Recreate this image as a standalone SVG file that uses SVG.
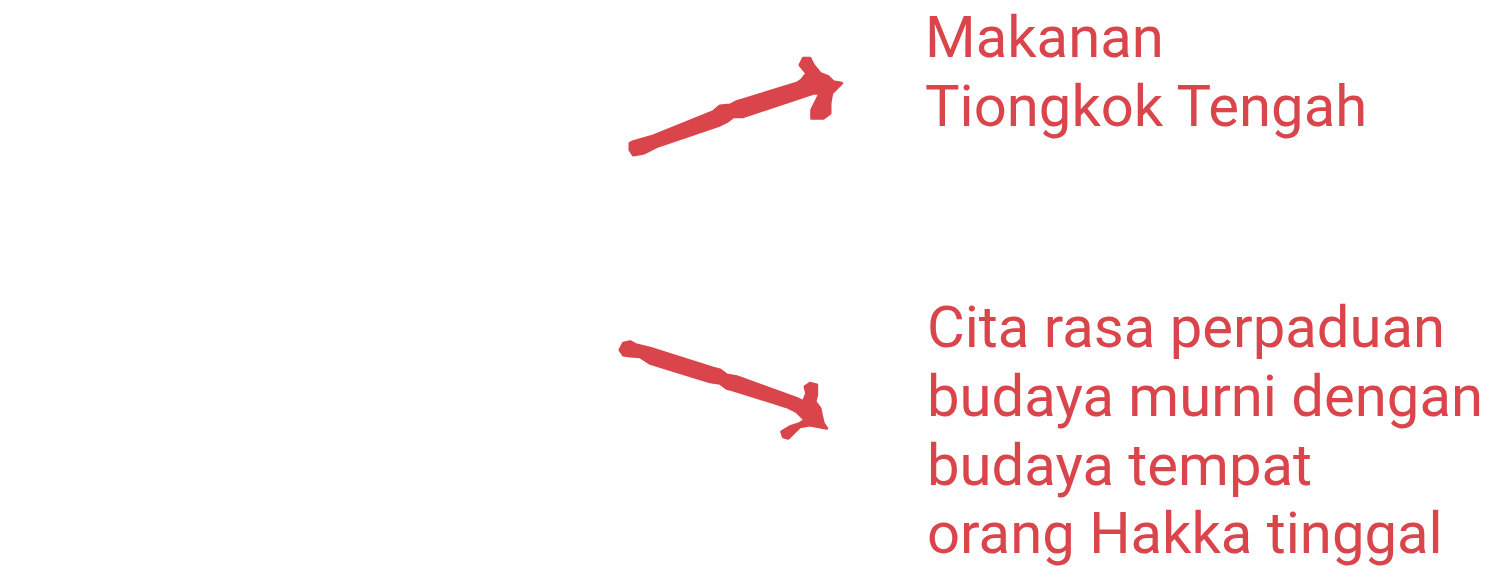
<svg xmlns="http://www.w3.org/2000/svg" width="1496" height="584" viewBox="0 0 1496 584">
<style>
.lbl{font-family:Roboto,"Noto Sans",sans-serif;font-size:58px;fill:#d9454b}
.arw{fill:#d9454b;stroke:#d9454b;stroke-width:3;stroke-linejoin:round}
</style>
<rect width="1496" height="584" fill="#ffffff"/>
<g id="connectors">
<path class="arw" d="M633.3,141.7 L653.3,136 L713.3,111.7 L720,106 L730,105 L736.7,101.7 L796.7,83.3 L801.7,80 L806.7,73.3 L800,65 L803.3,58.3 L810,58.3 L813.3,65 L820,73.3 L828.3,76.7 L833.3,81.7 L841.7,83.3 L836.7,88.3 L831.7,93.3 L830,103.3 L830,113.3 L823.3,118.3 L811.7,118.3 L811.7,110 L816.7,100 L820,93.3 L813.3,93.3 L743.3,116.7 L733.3,116.7 L726.7,121.7 L720,125 L656.7,146.7 L643.3,153.3 L633.3,155 L630,150 L630,143.3 Z"/>
<path class="arw" d="M623.3,343.3 L630,341.7 L636.7,345 L650,348.3 L713.3,368.3 L720,370 L726.7,375 L736.7,376.7 L796.7,398.3 L803.3,401.7 L806.7,393.3 L805,386.7 L810,383.3 L816.7,385 L816.7,395 L815,401.7 L820,408.3 L821.7,416.7 L823.3,423.3 L826.7,428.3 L810,425 L800,426.7 L793.3,433.3 L788.3,438.3 L783.3,436.7 L781.7,431.7 L790,426.7 L800,423.3 L805,420 L796.7,411.7 L786.7,406.7 L733.3,390 L726.7,388.3 L720,383.3 L710,381.7 L650,363.3 L640,356.7 L630,356 L623.3,355 L620,350 Z"/>
</g>
<g id="node-makanan">
<text class="lbl" x="925" y="57">Makanan</text>
<text class="lbl" x="925" y="126">Tiongkok Tengah</text>
</g>
<g id="node-cita">
<text class="lbl" x="927" y="347">Cita rasa perpaduan</text>
<text class="lbl" x="927" y="416">budaya murni dengan</text>
<text class="lbl" x="927" y="485">budaya tempat</text>
<text class="lbl" x="927" y="553">orang Hakka tinggal</text>
</g>
</svg>
